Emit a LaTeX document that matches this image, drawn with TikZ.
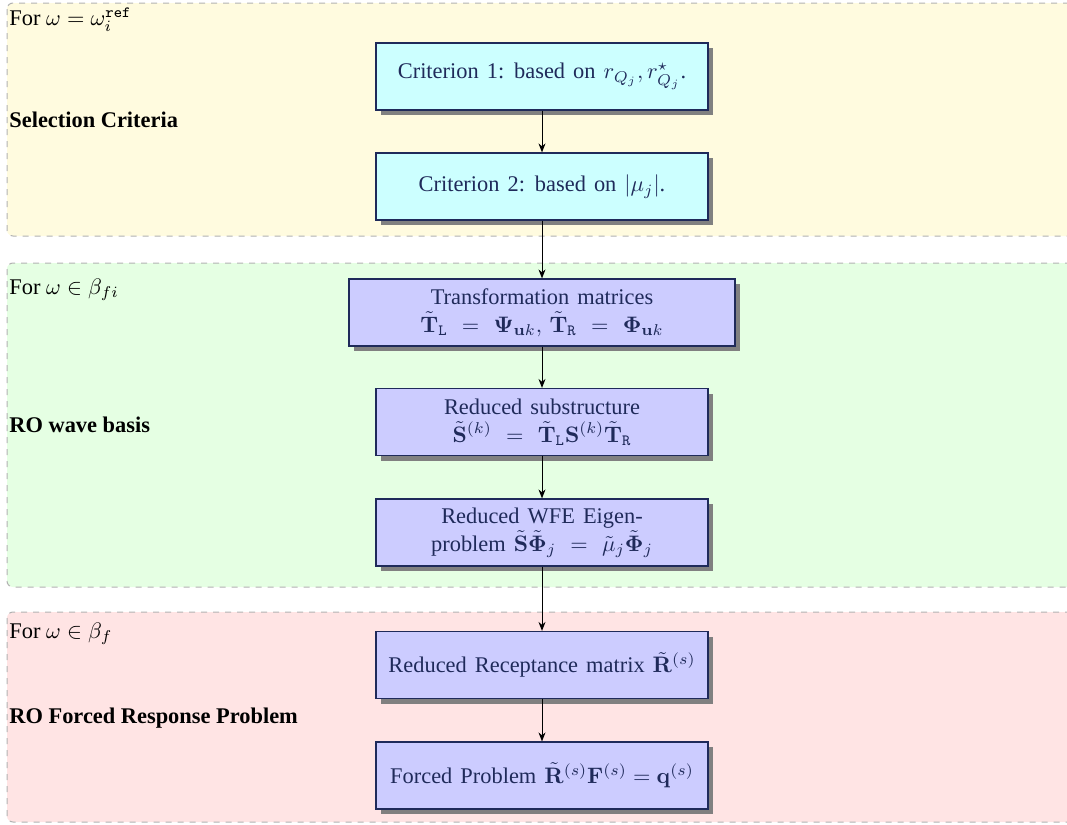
\RequirePackage{fix-cm}
\documentclass[tikz,border=0pt]{standalone}
\usepackage{amsmath,amssymb}
\usepackage[no-math]{fontspec}
\setmainfont{Liberation Serif}
\usetikzlibrary{shadows,arrows.meta}

\definecolor{panelY}{HTML}{FFFBDF}
\definecolor{panelG}{HTML}{E5FFE3}
\definecolor{panelR}{HTML}{FFE4E4}
\definecolor{boxC}{HTML}{CCFFFF}
\definecolor{boxB}{HTML}{CCCCFF}
\definecolor{boxline}{HTML}{1F2A5A}

\newcommand{\bodysize}{\fontsize{11.2}{14}\selectfont}
\newcommand{\boxfont}{\bodysize\spaceskip=0.36em plus 0.1em\relax}

\tikzset{
  panel/.style={draw=black!30, dashed, line width=0.5pt, rounded corners=3pt},
  steplabel/.style={anchor=west, inner sep=0pt, font=\bodysize},
  stepbox/.style={draw=boxline, line width=0.6pt, text=boxline, align=center,
    font=\boxfont,
    minimum width=166pt, minimum height=33.5pt, inner sep=2pt,
    drop shadow={shadow xshift=2.6pt, shadow yshift=-2.6pt, fill=black!50, opacity=1}},
  critbox/.style={stepbox, fill=boxC},
  redbox/.style={stepbox, fill=boxB},
  flow/.style={-{Stealth[length=4.5pt,width=3.5pt]}, line width=0.5pt, black}
}

\begin{document}
\begin{tikzpicture}[x=0.5pt,y=-0.5pt]
\useasboundingbox (0,0) rectangle (1067,825);
\clip (0,0) rectangle (1067,825);

% stage panels
\draw[panel, fill=panelY] (7,3) rectangle (1080,236);
\draw[panel, fill=panelG] (7,263) rectangle (1080,587);
\draw[panel, fill=panelR] (7,612) rectangle (1080,822);

% panel captions
\node[steplabel] (capA) at (9,20) {For $\omega=\omega_i^{\texttt{ref}}$};
\node[steplabel] (titA) at (9,120) {\textbf{Selection Criteria}};
\node[steplabel] (capB) at (9,290) {For $\omega\in\beta_{fi}$};
\node[steplabel] (titB) at (9,425) {\textbf{RO wave basis}};
\node[steplabel] (capC) at (9,634) {For $\omega\in\beta_{f}$};
\node[steplabel] (titC) at (9,718) {\textbf{RO Forced Response Problem}};

% selection criteria
\node[critbox] (c1) at (542,76.5) {Criterion 1: based on $r_{Q_j}, r^{\star}_{Q_j}$.};
\node[critbox] (c2) at (542,186.5) {Criterion 2: based on $|\mu_j|$.};

% reduced-order wave basis
\node[redbox, minimum width=193pt] (tm) at (542,312.5)
  {Transformation matrices\\
   $\tilde{\mathbf{T}}_{\texttt{L}}\ =\ \mathbf{\Psi}_{\mathbf{u}k},\,\tilde{\mathbf{T}}_{\texttt{R}}\ =\ \mathbf{\Phi}_{\mathbf{u}k}$};
\node[redbox] (rs) at (542,422)
  {Reduced substructure\\
   $\tilde{\mathbf{S}}^{(k)}\ =\ \tilde{\mathbf{T}}_{\texttt{L}}\mathbf{S}^{(k)}\tilde{\mathbf{T}}_{\texttt{R}}$};
\node[redbox] (ev) at (542,532.5)
  {Reduced WFE Eigen-\\
   problem $\tilde{\mathbf{S}}\tilde{\mathbf{\Phi}}_j\ =\ \tilde{\mu}_j\tilde{\mathbf{\Phi}}_j$};

% forced response
\node[redbox] (rr) at (542,665) {Reduced Receptance matrix $\tilde{\mathbf{R}}^{(s)}$};
\node[redbox] (fp) at (542,775.5) {Forced Problem $\tilde{\mathbf{R}}^{(s)}\mathbf{F}^{(s)}=\mathbf{q}^{(s)}$};

% flow
\draw[flow] (c1) -- (c2);
\draw[flow] (c2) -- (tm);
\draw[flow] (tm) -- (rs);
\draw[flow] (rs) -- (ev);
\draw[flow] (ev) -- (rr);
\draw[flow] (rr) -- (fp);
\end{tikzpicture}
\end{document}
